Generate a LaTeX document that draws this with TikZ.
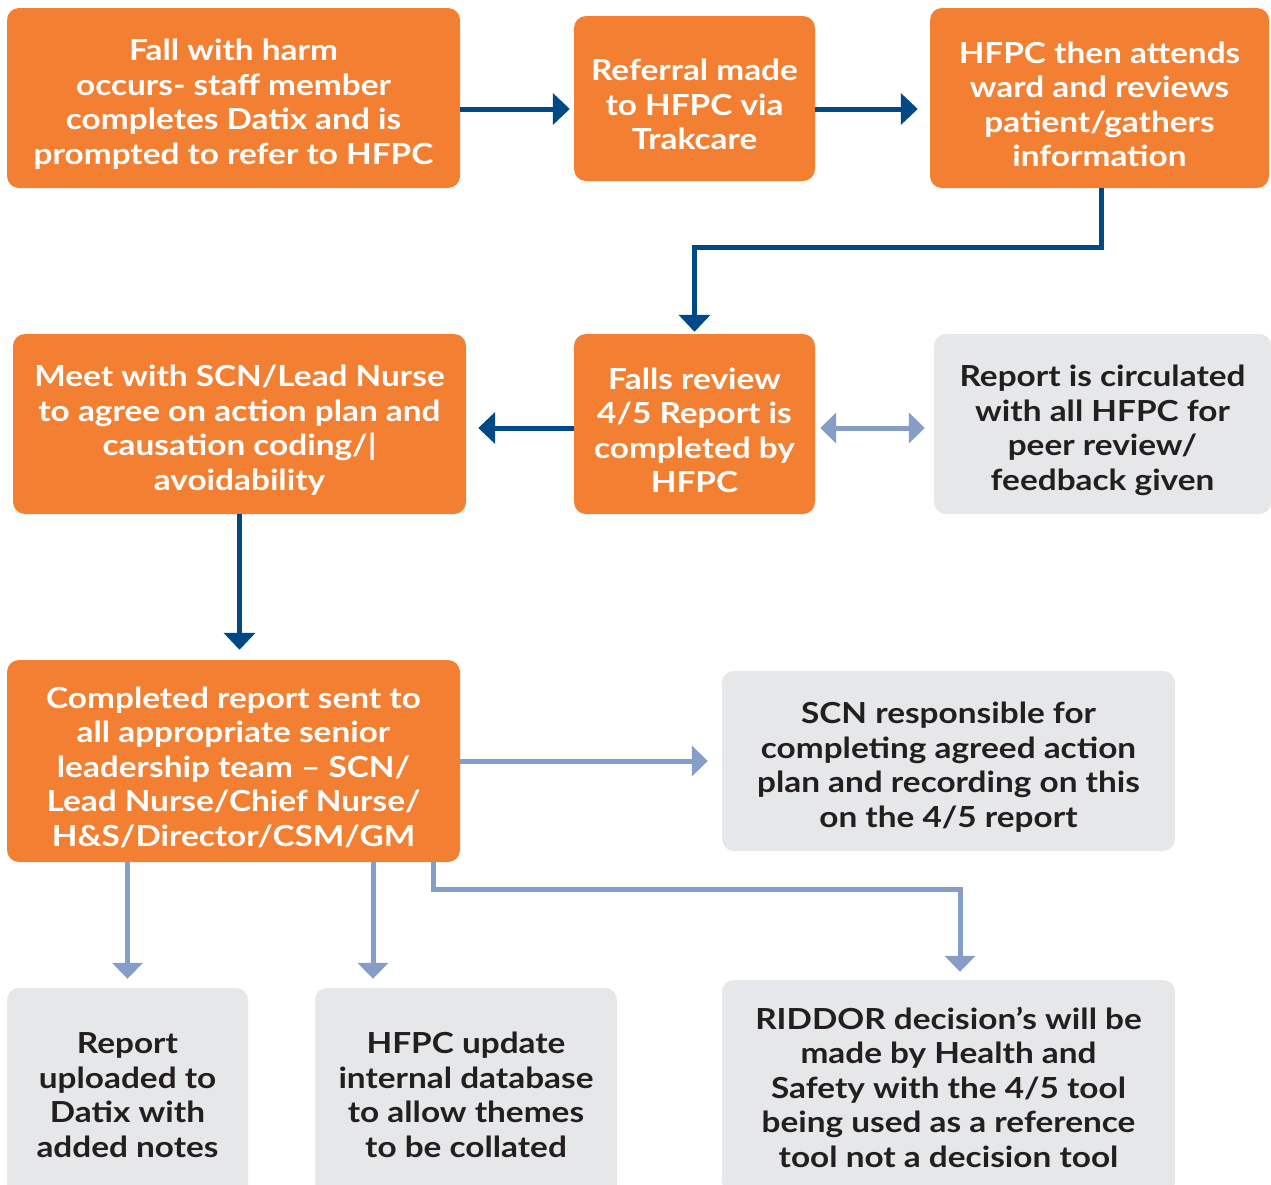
\documentclass[tikz,border=0pt]{standalone}
\usepackage{fontspec}
\setmainfont{Lato}[FakeStretch=1.15]
\usetikzlibrary{arrows.meta}
\definecolor{boxorange}{HTML}{F37F33}
\definecolor{boxgray}{HTML}{E6E7E8}
\definecolor{textgray}{HTML}{231F20}
\definecolor{flowdark}{HTML}{004987}
\definecolor{flowlight}{HTML}{869DC7}
% a taller first line sets the text block a little lower in its box
\newcommand\dropline{\rule{0pt}{34pt}}
\tikzset{
  flowbox/.style={rectangle, rounded corners=12pt, inner sep=0pt, align=center,
    font=\fontsize{29}{34.5}\selectfont\bfseries},
  orangebox/.style={flowbox, fill=boxorange, text=white},
  graybox/.style={flowbox, fill=boxgray, text=textgray},
  darkflow/.style={draw=flowdark, line width=5pt, -{Triangle[length=17pt,width=31pt]}},
  lightflow/.style={draw=flowlight, line width=5pt, -{Triangle[length=16pt,width=30pt]}},
}
\begin{document}
\begin{tikzpicture}[x=1pt,y=-1pt]
\useasboundingbox (0,0) rectangle (1271,1184);

% top row
\node[orangebox, minimum width=453pt, minimum height=180pt] (A) at (233.5,98)
  {\dropline Fall with harm\\occurs- staff member\\completes Datix and is\\prompted to refer to HFPC};
\node[orangebox, minimum width=241pt, minimum height=165pt] (B) at (694.5,98.5)
  {\dropline Referral made\\to HFPC via\\Trakcare};
\node[orangebox, minimum width=339pt, minimum height=180pt] (C) at (1099.5,98)
  {\dropline HFPC then attends\\ward and reviews\\patient/gathers\\information};

% second row
\node[orangebox, minimum width=453pt, minimum height=180pt] (D) at (239.5,424)
  {\dropline Meet with SCN/Lead Nurse\\to agree on action plan and\\causation coding/|\\avoidability};
\node[orangebox, minimum width=241pt, minimum height=180pt] (E) at (694.5,424)
  {\dropline Falls review\\4/5 Report is\\completed by\\HFPC};
\node[graybox, minimum width=337pt, minimum height=180pt] (F) at (1102.5,424)
  {\dropline Report is circulated\\with all HFPC for\\peer review/\\feedback given};

% third row
\node[orangebox, minimum width=453pt, minimum height=202pt] (G) at (233.5,761)
  {\dropline Completed report sent to\\all appropriate senior\\leadership team – SCN/\\Lead Nurse/Chief Nurse/\\H\&S/Director/CSM/GM};
\node[graybox, minimum width=453pt, minimum height=180pt] (H) at (948.5,761)
  {\dropline SCN responsible for\\completing agreed action\\plan and recording on this\\on the 4/5 report};

% bottom row (boxes run past the lower edge)
\node[graybox, minimum width=241pt, minimum height=214pt] (I) at (127.5,1095)
  {Report\\uploaded to\\Datix with\\added notes};
\node[graybox, minimum width=302pt, minimum height=214pt] (J) at (466,1095)
  {HFPC update\\internal database\\to allow themes\\to be collated};
\node[graybox, minimum width=453pt, minimum height=214pt] (K) at (948.5,1087)
  {RIDDOR decision’s will be\\made by Health and\\Safety with the 4/5 tool\\being used as a reference\\tool not a decision tool};

% main flow
\draw[darkflow, shorten >=4pt] ([yshift=-11pt]A.east) -- ([yshift=-10.5pt]B.west);
\draw[darkflow, shorten >=12pt] ([yshift=-10.5pt]B.east) -- ([yshift=-11pt]C.west);
\coordinate (cturn) at ([xshift=1.5pt,yshift=-59pt]C.south);
\draw[darkflow, shorten >=2pt] ([xshift=1.5pt]C.south) -- (cturn) -| (E.north);
\draw[darkflow, shorten >=12pt] ([yshift=-4pt]E.west) -- ([yshift=-4pt]D.east);
\draw[darkflow, shorten >=10pt] (D.south) -- (D.south |- G.north);

% secondary flow
\draw[lightflow, {Triangle[length=16pt,width=30pt]}-{Triangle[length=16pt,width=30pt]},
  shorten <=5pt, shorten >=9pt] ([yshift=-4pt]E.east) -- ([yshift=-4pt]F.west);
\draw[lightflow, shorten >=14pt] (G.east) -- (H.west);
\draw[lightflow, shorten >=9pt] (G.south -| I.north) -- (I.north);
\coordinate (jdrop) at ([xshift=139.5pt]G.south);
\draw[lightflow, shorten >=9pt] (jdrop) -- (jdrop |- J.north);
\coordinate (kdrop) at ([xshift=199.5pt]G.south);
\coordinate (kturn) at ([xshift=199.5pt,yshift=-27pt]G.south);
\draw[lightflow, shorten >=8pt] (kdrop) -- (kturn) -| ([xshift=11.5pt]K.north);
\end{tikzpicture}
\end{document}
